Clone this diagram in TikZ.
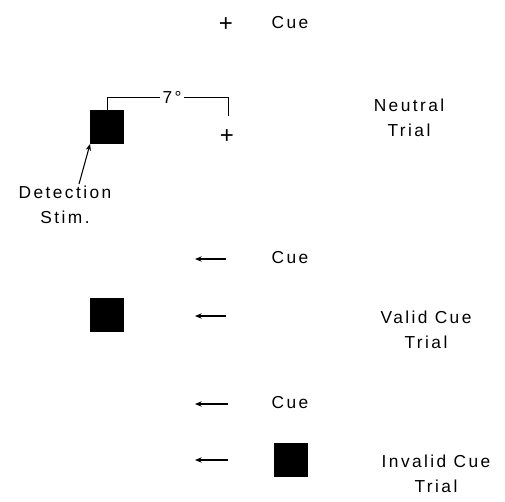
\documentclass[tikz,border=0pt]{standalone}
\usepackage{fontspec}
\setmainfont[LetterSpace=14]{Liberation Sans}
\usetikzlibrary{arrows.meta}
\begin{document}
\begin{tikzpicture}[x=0.75pt,y=-0.75pt,
  lbl/.style={font=\fontsize{13}{18.5}\selectfont, inner sep=0pt, align=center},
  stim/.style={fill=black, minimum size=25pt, inner sep=0pt},
  cross/.style={font=\fontsize{18}{18}\selectfont, inner sep=0pt},
  cuearrow/.style={-{Stealth[length=5pt,width=4pt]}, line width=0.8pt}]
\useasboundingbox (0,0) rectangle (505,501);
% Neutral trial
\node[cross] (fix1) at (226,25) {+};
\node[lbl] (cue1) at (290,23) {Cue};
\node[stim] (sq1) at (107,127) {};
\node[cross] (fix2) at (227,137) {+};
\coordinate (b1) at (107,97);
\coordinate (b2) at (228,97);
\coordinate (b3) at (228,116);
\draw[line width=0.7pt] (sq1.north) -- (b1) -- (b2) -- (b3);
\node[lbl, fill=white, inner xsep=2pt] (deg) at (172,97) {7°};
\node[lbl] (neutral) at (409,118) {Neutral\\Trial};
\node[lbl] (det) at (65,205) {Detection\\Stim.};
\draw[line width=0.8pt, -{Stealth[length=5pt,width=4pt]}] (det.north) ++(14,-2) coordinate (da) -- (sq1.south west);
% Valid cue trial
\coordinate (a1s) at (226,259);
\coordinate (a1e) at (195,259);
\draw[cuearrow] (a1s) -- (a1e);
\node[lbl] (cue2) at (290,258) {Cue};
\node[stim] (sq2) at (107,315) {};
\coordinate (a2s) at (226,316);
\coordinate (a2e) at (195,316);
\draw[cuearrow] (a2s) -- (a2e);
\node[lbl] (valid) at (426,330) {Valid Cue\\Trial};
% Invalid cue trial
\coordinate (a3s) at (228,404);
\coordinate (a3e) at (195,404);
\draw[cuearrow] (a3s) -- (a3e);
\node[lbl] (cue3) at (290,403) {Cue};
\coordinate (a4s) at (228,460);
\coordinate (a4e) at (195,460);
\draw[cuearrow] (a4s) -- (a4e);
\node[stim] (sq3) at (291,460) {};
\node[lbl] (invalid) at (436,474) {Invalid Cue\\Trial};
\end{tikzpicture}
\end{document}
